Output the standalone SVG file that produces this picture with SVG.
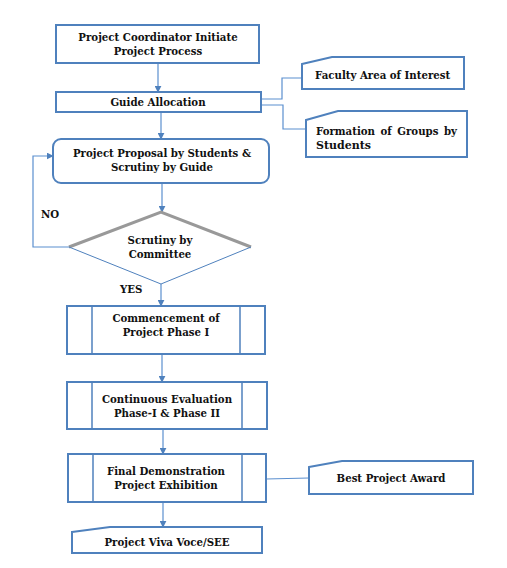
<svg xmlns="http://www.w3.org/2000/svg" width="507" height="568" viewBox="0 0 507 568">
<style>
.box{fill:#fff;stroke:#4f81bd;stroke-width:2}
.thin{fill:none;stroke:#4f81bd;stroke-width:1.5}
.con{fill:none;stroke:#5b8fcf;stroke-width:1.2}
text{font-family:"DejaVu Serif","Liberation Serif",serif;font-weight:bold;font-size:10.2px;fill:#111}
.c{text-anchor:middle}
</style>
<defs>
<marker id="ah" viewBox="0 0 10 10" refX="9" refY="5" markerWidth="7" markerHeight="7" markerUnits="userSpaceOnUse" orient="auto">
<path d="M0,0 L10,5 L0,10 z" fill="#4f81bd"/>
</marker>
</defs>
<rect width="507" height="568" fill="#fff"/>
<g id="connectors">
<line class="con" x1="158" y1="63" x2="158" y2="92" marker-end="url(#ah)"/>
<polyline class="con" points="261,99 282,99 282,78 302,78"/>
<polyline class="con" points="261,105 283,105 283,129 306,129"/>
<line class="con" x1="161" y1="112" x2="161" y2="139" marker-end="url(#ah)"/>
<line class="con" x1="162" y1="183" x2="162" y2="212" marker-end="url(#ah)"/>
<polyline class="con" points="69,247 33,247 33,156 53,156" marker-end="url(#ah)"/>
<line class="con" x1="161" y1="284" x2="161" y2="306" marker-end="url(#ah)"/>
<line class="con" x1="162" y1="355" x2="162" y2="382" marker-end="url(#ah)"/>
<line class="con" x1="163" y1="429" x2="163" y2="454" marker-end="url(#ah)"/>
<line class="con" x1="266" y1="479" x2="309" y2="478"/>
<line class="con" x1="163" y1="502" x2="163" y2="527" marker-end="url(#ah)"/>
</g>
<g id="n1">
<rect class="box" x="56" y="25" width="203" height="38"/>
<text class="c" x="158" y="41">Project Coordinator Initiate</text>
<text class="c" x="158" y="55">Project Process</text>
</g>
<g id="n2">
<rect class="box" x="56" y="92" width="205" height="20"/>
<text class="c" x="158" y="106">Guide Allocation</text>
</g>
<g id="n3">
<path class="box" d="M302,64 L332,57 L464,57 L464,89 L302,89 Z"/>
<text x="315" y="79">Faculty Area of Interest</text>
</g>
<g id="n4">
<path class="box" d="M306,120 L338,111 L467,111 L467,157 L306,157 Z"/>
<text x="316" y="135" style="word-spacing:2px">Formation of Groups by</text>
<text x="316" y="149" style="font-size:11px">Students</text>
</g>
<g id="n5">
<rect class="box" x="53" y="139" width="216" height="44" rx="8"/>
<text class="c" x="162" y="157">Project Proposal by Students &amp;</text>
<text class="c" x="162" y="171">Scrutiny by Guide</text>
</g>
<g id="n6">
<path d="M69,247 L161,212 L251,247 L161,284 Z" fill="#fff" stroke="none"/>
<path d="M69,247 L161,212 L251,247" fill="none" stroke="#999" stroke-width="3"/>
<path d="M69,247 L161,284 L251,247" fill="none" stroke="#4f81bd" stroke-width="1"/>
<text class="c" x="160" y="244">Scrutiny by</text>
<text class="c" x="160" y="258">Committee</text>
</g>
<text x="41" y="218">NO</text>
<text x="120" y="293">YES</text>
<g id="n7">
<rect class="box" x="67" y="306" width="198" height="48"/>
<line class="thin" x1="92" y1="306" x2="92" y2="354"/>
<line class="thin" x1="240" y1="306" x2="240" y2="354"/>
<text class="c" x="166" y="322">Commencement of</text>
<text class="c" x="166" y="336">Project Phase I</text>
</g>
<g id="n8">
<rect class="box" x="67" y="382" width="200" height="47"/>
<line class="thin" x1="92" y1="382" x2="92" y2="429"/>
<line class="thin" x1="242" y1="382" x2="242" y2="429"/>
<text class="c" x="167" y="403">Continuous Evaluation</text>
<text class="c" x="167" y="417">Phase-I &amp; Phase II</text>
</g>
<g id="n9">
<rect class="box" x="68" y="454" width="198" height="48"/>
<line class="thin" x1="93" y1="454" x2="93" y2="502"/>
<line class="thin" x1="242" y1="454" x2="242" y2="502"/>
<text class="c" x="166" y="475">Final Demonstration</text>
<text class="c" x="166" y="489">Project Exhibition</text>
</g>
<g id="n10">
<path class="box" d="M309,467 L342,461 L473,461 L473,494 L309,494 Z"/>
<text class="c" x="391" y="482">Best Project Award</text>
</g>
<g id="n11">
<path class="box" d="M72,532 L110,527 L262,527 L262,553 L72,553 Z"/>
<text class="c" x="167" y="546">Project Viva Voce/SEE</text>
</g>
</svg>
